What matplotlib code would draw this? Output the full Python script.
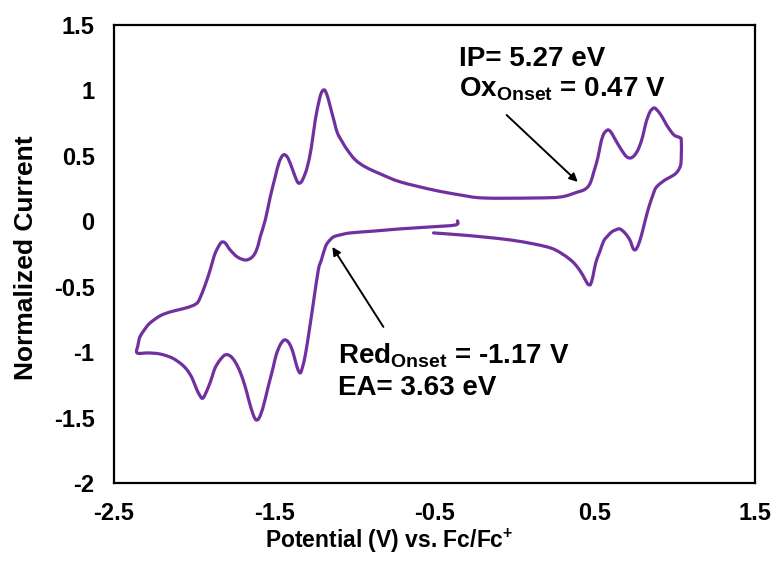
import matplotlib
matplotlib.use('Agg')
import matplotlib.pyplot as plt
from matplotlib.path import Path
from matplotlib.patches import PathPatch
import numpy as np

plt.rcParams['font.family'] = ['Liberation Sans', 'DejaVu Sans']
plt.rcParams['font.weight'] = 'bold'
plt.rcParams['mathtext.fontset'] = 'custom'
plt.rcParams['mathtext.rm'] = 'Liberation Sans:bold'
plt.rcParams['mathtext.bf'] = 'Liberation Sans:bold'

# CV trace: first cathodic sweep, anodic sweep, second cathodic sweep
potential = [
    -0.356, -0.369, -0.525, -0.713, -0.869, -1.025, -1.088, -1.131, -1.163, -1.181,
    -1.206, -1.225, -1.256, -1.281, -1.306, -1.325, -1.338, -1.356, -1.388, -1.413,
    -1.438, -1.463, -1.488, -1.506, -1.538, -1.569, -1.594, -1.613, -1.631, -1.656,
    -1.681, -1.713, -1.744, -1.775, -1.806, -1.838, -1.869, -1.888, -1.913, -1.944,
    -1.963, -1.988, -2.013, -2.044, -2.081, -2.138, -2.213, -2.288, -2.356,
    -2.350, -2.338, -2.306, -2.275, -2.213, -2.150, -2.075, -2.013, -1.981, -1.963,
    -1.931, -1.900, -1.875, -1.856, -1.838, -1.825, -1.806, -1.775, -1.731, -1.681,
    -1.644, -1.619, -1.600, -1.588, -1.556, -1.525, -1.494, -1.469, -1.444, -1.419,
    -1.394, -1.369, -1.350, -1.331, -1.313, -1.294, -1.269, -1.244, -1.219, -1.206,
    -1.194, -1.181, -1.163, -1.150, -1.125, -1.106, -1.075, -1.044, -0.994, -0.931,
    -0.838, -0.713, -0.506, -0.338, -0.194, 0.119, 0.288, 0.394, 0.431, 0.456,
    0.475, 0.494, 0.519, 0.538, 0.556, 0.581, 0.600, 0.619, 0.644, 0.675,
    0.700, 0.725, 0.750, 0.775, 0.800, 0.819, 0.844, 0.869, 0.888, 0.913,
    0.938, 0.956, 0.994, 1.030, 1.040,
    1.040, 1.036, 1.019, 0.994, 0.950, 0.913, 0.881, 0.863, 0.838, 0.819,
    0.800, 0.781, 0.763, 0.750, 0.738, 0.719, 0.688, 0.656, 0.631, 0.606,
    0.581, 0.556, 0.531, 0.506, 0.488, 0.475, 0.469, 0.456, 0.438, 0.413,
    0.381, 0.350, 0.288, 0.225, 0.119, -0.025, -0.194, -0.338, -0.506,
]
current = [
    0.003, -0.028, -0.043, -0.058, -0.074, -0.089, -0.104, -0.120, -0.158, -0.196,
    -0.296, -0.372, -0.624, -0.830, -1.021, -1.120, -1.159, -1.120, -0.983, -0.922,
    -0.907, -0.945, -1.021, -1.113, -1.265, -1.418, -1.502, -1.518, -1.479, -1.380,
    -1.265, -1.151, -1.074, -1.029, -1.021, -1.059, -1.120, -1.189, -1.273, -1.350,
    -1.334, -1.273, -1.197, -1.136, -1.090, -1.044, -1.014, -1.006, -1.006,
    -0.945, -0.883, -0.822, -0.777, -0.723, -0.693, -0.670, -0.647, -0.624, -0.586,
    -0.486, -0.372, -0.265, -0.211, -0.173, -0.158, -0.166, -0.219, -0.272, -0.296,
    -0.280, -0.242, -0.181, -0.120, 0.010, 0.186, 0.339, 0.453, 0.507, 0.492,
    0.423, 0.339, 0.293, 0.301, 0.346, 0.415, 0.560, 0.774, 0.927, 0.981,
    1.003, 0.996, 0.935, 0.874, 0.759, 0.675, 0.606, 0.545, 0.469, 0.415,
    0.362, 0.301, 0.239, 0.201, 0.178, 0.178, 0.186, 0.224, 0.239, 0.262,
    0.301, 0.377, 0.484, 0.599, 0.667, 0.698, 0.683, 0.644, 0.591, 0.530,
    0.492, 0.484, 0.507, 0.560, 0.652, 0.751, 0.835, 0.866, 0.851, 0.812,
    0.759, 0.721, 0.660, 0.640, 0.620,
    0.500, 0.430, 0.385, 0.354, 0.324, 0.293, 0.255, 0.201, 0.110, 0.026,
    -0.066, -0.150, -0.204, -0.219, -0.204, -0.143, -0.089, -0.058, -0.066, -0.081,
    -0.112, -0.150, -0.234, -0.318, -0.425, -0.479, -0.486, -0.479, -0.440, -0.387,
    -0.334, -0.296, -0.242, -0.204, -0.173, -0.143, -0.120, -0.104, -0.089,
]

x_ticks = [-2.5, -1.5, -0.5, 0.5, 1.5]
y_ticks = [-2, -1.5, -1, -0.5, 0, 0.5, 1, 1.5]


def smooth_path(xs, ys):
    # Excel-style smoothed line: cubic Bezier segments through the points
    p = np.column_stack([xs, ys])
    verts = [p[0]]
    codes = [Path.MOVETO]
    n = len(p)
    for i in range(n - 1):
        p0 = p[i - 1] if i > 0 else p[i]
        p1, p2 = p[i], p[i + 1]
        p3 = p[i + 2] if i + 2 < n else p[i + 1]
        verts += [p1 + (p2 - p0) / 6, p2 - (p3 - p1) / 6, p2]
        codes += [Path.CURVE4] * 3
    return Path(verts, codes)


fig = plt.figure(figsize=(7.8, 5.69), dpi=100)
ax = fig.add_axes([114/780, 1 - 483/569, 641/780, 458/569])

ax.add_patch(PathPatch(smooth_path(potential, current), facecolor='none',
                       edgecolor='#7030A0', linewidth=2.3, capstyle='round',
                       joinstyle='round'))

ax.set_xlim(-2.5, 1.5)
ax.set_ylim(-2, 1.5)
ax.set_xticks(x_ticks)
ax.set_yticks(y_ticks)
ax.set_xticklabels(['%g' % v for v in x_ticks])
ax.set_yticklabels(['%g' % v for v in y_ticks])
ax.tick_params(axis='both', length=0, labelsize=17)
ax.tick_params(axis='x', pad=14)
ax.tick_params(axis='y', pad=14)
for s in ax.spines.values():
    s.set_linewidth(1.6)

fig.text(389/780, 1 - 541/569, r'Potential (V) vs. Fc/Fc$^{\mathbf{+}}$',
         ha='center', va='center', fontsize=16.5, fontweight='bold')
fig.text(26/780, 1 - 258/569, 'Normalized Current', rotation=90,
         ha='center', va='center', fontsize=19, fontweight='bold')

# annotations
ax.text(-0.35, 1.186, 'IP= 5.27 eV', fontsize=20, fontweight='bold', va='baseline')
ax.text(-0.35, 0.957, r'Ox$_{\mathbf{Onset}}$ = 0.47 V', fontsize=20,
        fontweight='bold', va='baseline')
ax.annotate('', xy=(0.394, 0.301), xytext=(-0.05, 0.812),
            arrowprops=dict(arrowstyle='-|>', color='black', lw=1.4,
                            mutation_scale=12, shrinkA=0, shrinkB=0))

ax.text(-1.10, -1.082, r'Red$_{\mathbf{Onset}}$ = -1.17 V', fontsize=20,
        fontweight='bold', va='baseline')
ax.text(-1.10, -1.326, 'EA= 3.63 eV', fontsize=20, fontweight='bold', va='baseline')
ax.annotate('', xy=(-1.1375, -0.196), xytext=(-0.819, -0.807),
            arrowprops=dict(arrowstyle='-|>', color='black', lw=1.4,
                            mutation_scale=12, shrinkA=0, shrinkB=0))

plt.savefig('out.png', dpi=100)
